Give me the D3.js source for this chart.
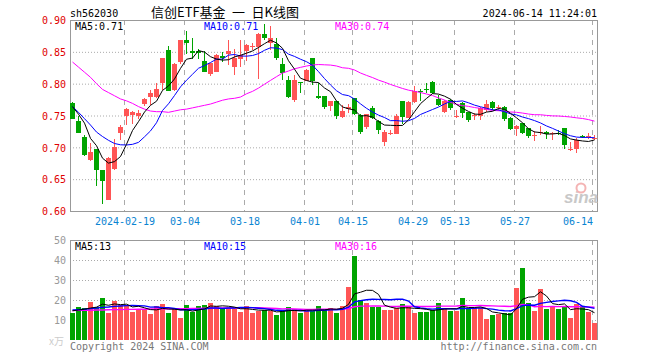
<!DOCTYPE html>
<html>
<head>
<meta charset="utf-8">
<script src="https://cdn.jsdelivr.net/npm/d3@7"></script>
<style>
  body { margin: 0; background: #fff; }
  text { font-family: "DejaVu Sans Mono", monospace; font-size: 10px; }
</style>
</head>
<body>
<svg id="chart" width="660" height="360"></svg>
<script>
// daily candles, 2024-01-29 .. 2024-06-14
var opens = [0.770,0.742,0.717,0.679,0.697,0.664,0.618,0.667,0.722,0.749,
             0.750,0.750,0.768,0.778,0.780,0.801,0.853,0.790,0.833,0.869,
             0.852,0.851,0.836,0.814,0.819,0.844,0.846,0.827,0.838,0.851,
             0.858,0.857,0.878,0.864,0.862,0.831,0.806,0.773,0.802,0.805,
             0.840,0.780,0.780,0.764,0.772,0.747,0.760,0.777,0.751,0.731,
             0.762,0.742,0.709,0.721,0.722,0.772,0.746,0.771,0.789,0.792,
             0.803,0.776,0.755,0.775,0.749,0.770,0.755,0.749,0.749,0.758,
             0.771,0.762,0.764,0.746,0.728,0.738,0.730,0.719,0.723,0.724,
             0.722,0.723,0.730,0.696,0.698,0.718,0.716,0.714];
var highs = [0.771,0.749,0.720,0.707,0.698,0.664,0.685,0.713,0.735,0.761,
             0.757,0.759,0.778,0.790,0.801,0.841,0.859,0.832,0.869,0.882,
             0.871,0.854,0.851,0.833,0.846,0.850,0.869,0.855,0.869,0.862,
             0.864,0.879,0.893,0.890,0.871,0.840,0.812,0.813,0.802,0.823,
             0.841,0.801,0.781,0.773,0.773,0.766,0.768,0.778,0.752,0.753,
             0.765,0.743,0.728,0.728,0.752,0.772,0.772,0.796,0.792,0.801,
             0.804,0.782,0.775,0.776,0.758,0.771,0.755,0.754,0.764,0.775,
             0.772,0.766,0.765,0.747,0.735,0.739,0.731,0.725,0.733,0.725,
             0.724,0.728,0.731,0.709,0.714,0.720,0.722,0.719];
var lows  = [0.744,0.722,0.687,0.678,0.640,0.611,0.617,0.665,0.711,0.735,
             0.736,0.745,0.765,0.766,0.777,0.790,0.788,0.788,0.831,0.846,
             0.838,0.838,0.818,0.813,0.818,0.835,0.830,0.814,0.827,0.835,
             0.853,0.806,0.868,0.852,0.836,0.806,0.777,0.771,0.785,0.804,
             0.798,0.776,0.760,0.757,0.744,0.746,0.754,0.751,0.721,0.730,
             0.745,0.721,0.703,0.720,0.721,0.736,0.745,0.770,0.773,0.785,
             0.784,0.764,0.754,0.759,0.746,0.746,0.740,0.743,0.743,0.756,
             0.758,0.756,0.742,0.726,0.717,0.721,0.716,0.709,0.719,0.712,
             0.711,0.720,0.698,0.695,0.690,0.715,0.712,0.711];
var closes = [0.745,0.723,0.689,0.692,0.664,0.647,0.684,0.701,0.732,0.760,
              0.755,0.754,0.776,0.785,0.792,0.840,0.789,0.831,0.868,0.864,
              0.849,0.848,0.819,0.832,0.845,0.841,0.851,0.841,0.845,0.861,
              0.859,0.878,0.871,0.872,0.840,0.817,0.780,0.805,0.801,0.822,
              0.804,0.777,0.762,0.772,0.749,0.757,0.763,0.752,0.725,0.752,
              0.746,0.728,0.724,0.723,0.750,0.747,0.771,0.788,0.787,0.791,
              0.785,0.767,0.772,0.763,0.750,0.755,0.742,0.751,0.761,0.768,
              0.761,0.764,0.745,0.729,0.733,0.722,0.717,0.720,0.724,0.721,
              0.723,0.722,0.703,0.697,0.712,0.716,0.718,0.715];
// volume, x万
var volumes = [13.7,16.5,16.2,19.2,16.5,21.2,13.7,19.5,17.5,17.7,
               14.2,15.5,15.6,13.0,17.0,18.0,13.7,15.3,11.2,17.6,
               14.2,17.1,17.6,18.5,16.8,15.4,16.1,15.5,14.2,17.0,
               13.7,14.3,15.2,14.3,12.7,14.7,16.6,15.5,13.5,14.3,
               14.7,17.0,15.7,15.9,13.7,17.0,26.7,42.0,20.0,18.7,
               16.7,16.7,15.0,15.0,15.8,18.0,16.7,13.7,14.2,14.2,
               15.0,18.3,15.8,14.5,14.5,21.2,15.3,15.8,15.8,10.7,
               12.5,13.0,13.3,13.3,26.2,36.0,18.3,14.5,25.5,15.7,
               17.0,15.7,16.3,11.2,18.0,16.3,14.0,8.7];

// moving-average values before a full window exists
var ma5Head  = [0.764,0.752,0.738,0.714];
var ma10Head = [0.764,0.755,0.745,0.735,0.724,0.717,0.711,0.706,0.704];
var ma30Head = [0.834,0.826,0.818,0.810,0.800,0.791,0.786,0.781,0.776,0.773,
                0.769,0.764,0.760,0.757,0.756,0.756,0.755,0.757,0.759,0.760,
                0.762,0.764,0.766,0.768,0.771,0.774,0.776,0.777,0.779];
var volMa5Head  = [14.6,15.0,15.4,16.0];
var volMa10Head = [15.0,15.2,15.4,15.7,16.0,16.3,16.5,16.8,17.0];
var volMa30Head = [14.7,14.8,14.8,14.9,15.0,15.0,15.1,15.2,15.2,15.3,
                   15.3,15.4,15.4,15.5,15.5,15.6,15.6,15.7,15.7,15.7,
                   15.8,15.8,15.9,15.9,15.9,16.0,16.0,16.0,16.0];

var priceTicks = [0.60,0.65,0.70,0.75,0.80,0.85,0.90];
var volTicks = [10,20,30,40,50];
var tickIndex = [9,19,29,39,47,57,64,74,87];
var tickLabels = ['2024-02-19','03-04','03-18','04-01','04-15','04-29','05-13','05-27','06-14'];

var RED = '#ff5555', GREEN = '#00a400';

function movingAvg(values, len, head) {
  return values.map(function (v, i) {
    if (i < len - 1) return head[i];
    return d3.mean(values.slice(i - len + 1, i + 1));
  });
}
function trunc2(v) { return (Math.floor(v * 100 + 1e-9) / 100).toFixed(2); }

var n = closes.length;
var svg = d3.select('#chart');

var x = d3.scaleLinear().domain([0, n]).range([70, 598]);
var y = d3.scaleLinear().domain([0.6, 0.9]).range([211, 20]);
var yv = d3.scaleLinear().domain([0, 50]).range([340, 240]);

var ma5 = movingAvg(closes, 5, ma5Head),
    ma10 = movingAvg(closes, 10, ma10Head),
    ma30 = movingAvg(closes, 30, ma30Head);
var vma5 = movingAvg(volumes, 5, volMa5Head),
    vma10 = movingAvg(volumes, 10, volMa10Head),
    vma30 = movingAvg(volumes, 30, volMa30Head);

// ---- grid
var grid = svg.append('g').attr('stroke', '#aaa').attr('stroke-width', 1);
grid.selectAll('.hp').data(priceTicks.slice(1, -1)).enter().append('line')
    .attr('x1', 70).attr('x2', 598)
    .attr('y1', function (d) { return y(d) + 0.5; })
    .attr('y2', function (d) { return y(d) + 0.5; })
    .attr('stroke-dasharray', '1,2');
grid.selectAll('.hv').data(volTicks.slice(0, -1)).enter().append('line')
    .attr('x1', 70).attr('x2', 598)
    .attr('y1', function (d) { return yv(d) + 0.5; })
    .attr('y2', function (d) { return yv(d) + 0.5; })
    .attr('stroke-dasharray', '1,2');
[[20, 211], [240, 340]].forEach(function (r) {
  grid.selectAll(null).data(tickIndex).enter().append('line')
      .attr('x1', function (d) { return x(d) + 0.5; })
      .attr('x2', function (d) { return x(d) + 0.5; })
      .attr('y1', r[0]).attr('y2', r[1])
      .attr('stroke-dasharray', '5,5');
});

// ---- frames
var frame = svg.append('g').attr('fill', 'none').attr('stroke', '#999')
    .attr('shape-rendering', 'crispEdges');
frame.append('rect').attr('x', 70.5).attr('y', 20.5).attr('width', 527).attr('height', 191);
frame.append('path').attr('d', 'M70.5,340V240.5H597.5V340');

// ---- watermark
var wm = svg.append('g').attr('transform', 'translate(564,203)');
wm.append('text').text('sina').attr('fill', '#c8c8c8')
    .style('font-family', 'Liberation Sans').style('font-size', '17px')
    .style('font-style', 'italic').style('font-weight', 'bold');
wm.append('circle').attr('cx', 17).attr('cy', -15).attr('r', 4.5)
    .attr('fill', 'none').attr('stroke', '#f4b4b4').attr('stroke-width', 2);

// ---- candles
var isUp = function (i) { return closes[i] >= opens[i]; };
var candles = svg.append('g').attr('shape-rendering', 'crispEdges');
var idx = d3.range(n);
candles.selectAll('.wick').data(idx).enter().append('rect')
    .attr('x', function (i) { return x(i) + 2; })
    .attr('width', 1)
    .attr('y', function (i) { return Math.round(y(highs[i])); })
    .attr('height', function (i) { return Math.max(1, Math.round(y(lows[i]) - y(highs[i]))); })
    .attr('fill', function (i) { return isUp(i) ? RED : GREEN; });
candles.selectAll('.body').data(idx).enter().append('rect')
    .attr('x', function (i) { return x(i); })
    .attr('width', 5)
    .attr('y', function (i) { return Math.round(y(Math.max(opens[i], closes[i]))); })
    .attr('height', function (i) { return Math.max(1, Math.round(Math.abs(y(opens[i]) - y(closes[i])))); })
    .attr('fill', function (i) { return isUp(i) ? RED : GREEN; });

// ---- volume bars
svg.append('g').attr('shape-rendering', 'crispEdges')
    .selectAll('rect').data(idx).enter().append('rect')
    .attr('x', function (i) { return x(i); })
    .attr('width', 5)
    .attr('y', function (i) { return Math.round(yv(volumes[i])); })
    .attr('height', function (i) { return 340 - Math.round(yv(volumes[i])); })
    .attr('fill', function (i) { return isUp(i) ? RED : GREEN; });

// ---- moving averages
function drawLine(vals, sc, color, w) {
  svg.append('path').datum(vals)
      .attr('fill', 'none').attr('stroke', color).attr('stroke-width', w)
      .attr('d', d3.line()
          .x(function (d, i) { return x(i) + 2.5; })
          .y(function (d) { return sc(d); }));
}
drawLine(ma30, y, '#ff00ff', 1);
drawLine(ma10, y, '#0000ff', 1);
drawLine(ma5, y, '#000', 1);
drawLine(vma30, yv, '#ff00ff', 1.4);
drawLine(vma10, yv, '#0000ff', 1.4);
drawLine(vma5, yv, '#000', 1);

// ---- axes
var ay = svg.append('g').attr('transform', 'translate(70,0.5)')
    .call(d3.axisLeft(y).tickValues(priceTicks).tickFormat(d3.format('.2f')).tickSize(0).tickPadding(4));
ay.select('.domain').remove();
ay.selectAll('text').attr('fill', '#e00000').style('font-size', '10px').style('font-family', '"DejaVu Sans Mono"');

var av = svg.append('g').attr('transform', 'translate(70,0.5)')
    .call(d3.axisLeft(yv).tickValues(volTicks).tickSize(0).tickPadding(4));
av.select('.domain').remove();
av.selectAll('text').attr('fill', '#999').style('font-size', '10px').style('font-family', '"DejaVu Sans Mono"');

var ax = svg.append('g').attr('transform', 'translate(0.5,214)')
    .call(d3.axisBottom(x).tickValues(tickIndex)
        .tickFormat(function (d, i) { return tickLabels[i]; }).tickSize(0).tickPadding(4));
ax.select('.domain').remove();
ax.selectAll('text').attr('fill', '#0a84d2').style('font-size', '10px').style('font-family', '"DejaVu Sans Mono"');
// last label is kept inside the frame
ax.selectAll('.tick').filter(function (d) { return d === n - 1; })
    .select('text').attr('text-anchor', 'end');

// ---- labels
svg.append('text').attr('x', 70).attr('y', 17).text('sh562030');
svg.append('text').attr('x', 225).attr('y', 17).attr('text-anchor', 'middle')
    .style('font-family', '"Noto Sans CJK SC"').style('font-size', '13px')
    .text('信创ETF基金\u2002一\u2002日K线图');
svg.append('text').attr('x', 597).attr('y', 17).attr('text-anchor', 'end').text('2024-06-14 11:24:01');

svg.append('text').attr('x', 75).attr('y', 30).attr('fill', '#000').text('MA5:' + trunc2(ma5[n - 1]));
svg.append('text').attr('x', 204).attr('y', 30).attr('fill', '#0000ff').text('MA10:' + trunc2(ma10[n - 1]));
svg.append('text').attr('x', 335).attr('y', 30).attr('fill', '#ff00ff').text('MA30:' + trunc2(ma30[n - 1]));

svg.append('text').attr('x', 75).attr('y', 250).attr('fill', '#000').text('MA5:' + Math.floor(vma5[n - 1]));
svg.append('text').attr('x', 204).attr('y', 250).attr('fill', '#0000ff').text('MA10:' + Math.floor(vma10[n - 1]));
svg.append('text').attr('x', 335).attr('y', 250).attr('fill', '#ff00ff').text('MA30:' + Math.floor(vma30[n - 1]));

svg.append('text').attr('x', 64).attr('y', 345).attr('text-anchor', 'end').attr('fill', '#ccc')
    .style('font-family', '"Noto Sans CJK SC"').text('x万');
svg.append('text').attr('x', 70).attr('y', 350).attr('fill', '#777').text('Copyright 2024 SINA.COM');
svg.append('text').attr('x', 597).attr('y', 350).attr('text-anchor', 'end').attr('fill', '#777')
    .text('http://finance.sina.com.cn');
</script>
</body>
</html>
